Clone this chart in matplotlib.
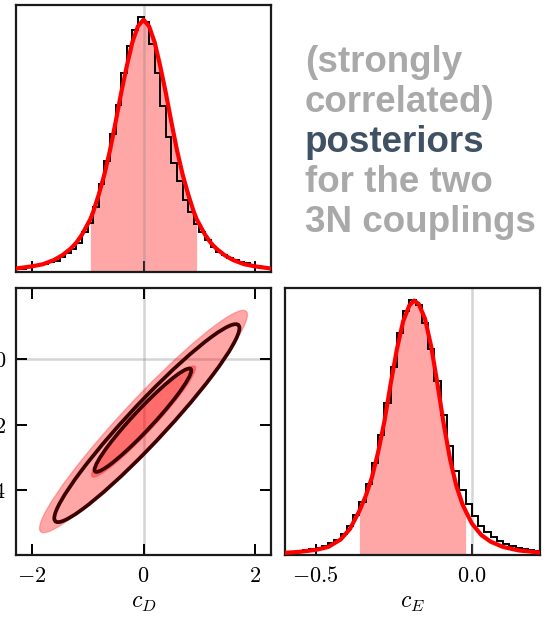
import numpy as np
import matplotlib
matplotlib.use("Agg")
import matplotlib.pyplot as plt
from matplotlib.patches import Ellipse

plt.rcParams['mathtext.fontset'] = 'cm'

# ---------------- data ----------------
# c_D marginal histogram (bins of 0.1 from -2.3 to 2.3), relative density
cD_edges = np.round(np.arange(-2.3, 2.3001, 0.1), 3)
cD_hist = [0.012, 0.013, 0.019, 0.021, 0.025, 0.030, 0.036, 0.043, 0.055, 0.070,
           0.085, 0.108, 0.150, 0.185, 0.245, 0.330, 0.415, 0.515, 0.625, 0.745,
           0.845, 0.905, 0.955, 0.935, 0.855, 0.745, 0.620, 0.505, 0.410, 0.340,
           0.270, 0.225, 0.180, 0.150, 0.118, 0.093, 0.075, 0.063, 0.053, 0.044,
           0.038, 0.032, 0.027, 0.022, 0.019, 0.015]
# fitted curve for c_D
cD_fit_x = [-2.28, -2.0, -1.8, -1.6, -1.45, -1.3, -1.2, -1.1, -0.95, -0.9, -0.8, -0.7,
            -0.6, -0.5, -0.4, -0.3, -0.2, -0.1, 0.0, 0.1, 0.2, 0.3, 0.4, 0.5, 0.6,
            0.7, 0.8, 0.9, 0.95, 1.1, 1.2, 1.3, 1.45, 1.6, 1.8, 2.0, 2.28]
cD_fit_y = [0.013, 0.021, 0.029, 0.045, 0.063, 0.088, 0.110, 0.140, 0.198, 0.225, 0.290, 0.365,
            0.455, 0.560, 0.670, 0.770, 0.860, 0.920, 0.945, 0.920, 0.860, 0.770, 0.670, 0.560, 0.455,
            0.365, 0.290, 0.225, 0.198, 0.140, 0.110, 0.088, 0.063, 0.045, 0.029, 0.021, 0.013]
cD_interval = [-0.95, 0.95]

# c_E marginal histogram (bins of 0.02 from -0.6 to 0.22)
cE_edges = np.round(np.arange(-0.6, 0.2201, 0.02), 3)
cE_hist = [0.010, 0.012, 0.015, 0.018, 0.022, 0.027, 0.034, 0.045, 0.058, 0.078,
           0.108, 0.148, 0.200, 0.265, 0.345, 0.450, 0.570, 0.705, 0.830, 0.915,
           0.955, 0.935, 0.870, 0.770, 0.650, 0.525, 0.410, 0.315, 0.245, 0.190,
           0.145, 0.110, 0.085, 0.066, 0.052, 0.042, 0.034, 0.028, 0.023, 0.019, 0.016]
cE_fit_x = [-0.60, -0.55, -0.50, -0.46, -0.42, -0.39, -0.36, -0.34, -0.32, -0.30, -0.28,
            -0.26, -0.24, -0.22, -0.20, -0.185, -0.17, -0.15, -0.13, -0.11, -0.09, -0.07,
            -0.05, -0.03, -0.02, 0.00, 0.03, 0.06, 0.10, 0.15, 0.22]
cE_fit_y = [0.008, 0.012, 0.019, 0.030, 0.058, 0.098, 0.165, 0.220, 0.290, 0.385, 0.500,
            0.640, 0.770, 0.875, 0.935, 0.953, 0.940, 0.885, 0.780, 0.640, 0.490, 0.360,
            0.260, 0.190, 0.165, 0.118, 0.075, 0.050, 0.030, 0.017, 0.009]
cE_interval = [-0.36, -0.02]

# 2D Gaussian fit (mean, sd, correlation) and sigma levels
fit_mean = [0.0, -0.19]
fit_sd = [0.93, 0.17]
fit_rho = 0.96
fit_levels = [2.0, 1.0]
# sample (KDE) contours: centres and radii in units of the fit covariance
kde_centers = [(0.06, -0.195), (-0.01, -0.186)]
kde_levels = [1.78, 0.93]

cD_ticks = [-2, 0, 2]
cE_ticks2d = [0.0, -0.2, -0.4]
cE_ticks = [-0.5, 0.0]
cD_lim = (-2.28, 2.28)
cE_lim = (-0.598, 0.218)

text_lines = ["(strongly", "correlated)", "posteriors", "for the two", "3N couplings"]
text_colors = ["#a9a9a9", "#a9a9a9", "#3f5163", "#a9a9a9", "#a9a9a9"]

# ---------------- figure ----------------
W, H = 551, 620
fig = plt.figure(figsize=(W / 100, H / 100), dpi=100)

def px_axes(x0, y0, x1, y1):
    return fig.add_axes([x0 / W, 1 - y1 / H, (x1 - x0) / W, (y1 - y0) / H])

ax_top = px_axes(16, 5, 271, 272)
ax_2d = px_axes(16, 288, 271, 555)
ax_r = px_axes(285, 288, 540, 555)

FS = 16
def mfmt(v, nd):
    s = f"{v:.{nd}f}"
    return f"${s}$"

for ax in (ax_top, ax_2d, ax_r):
    for sp in ax.spines.values():
        sp.set_linewidth(1.6)
        sp.set_color("#1a1a1a")

red_fill = (1, 0, 0, 0.35)
grey = (0.53, 0.53, 0.53, 0.35)

# top histogram (c_D)
ax = ax_top
fx = np.array(cD_fit_x); fy = np.array(cD_fit_y)
m = (fx >= cD_interval[0]) & (fx <= cD_interval[1])
ax.fill_between(fx[m], 0, fy[m], color=red_fill, lw=0, zorder=1)
ax.axvline(0, color=grey, lw=1.8, zorder=2)
ax.stairs(cD_hist, cD_edges, color="black", lw=1.4, zorder=3)
ax.plot(fx, fy, color="red", lw=3.0, zorder=4, solid_capstyle="round")
ax.set_xlim(*cD_lim)
ax.set_ylim(0, 1.0)
ax.set_xticks(cD_ticks)
ax.set_yticks([])
ax.tick_params(axis="x", direction="in", length=8, width=1.4, labelbottom=False, top=False)

# 2D panel
ax = ax_2d
ax.axvline(0, color=grey, lw=1.8, zorder=0)
ax.axhline(0, color=grey, lw=1.8, zorder=0)
cov = np.array([[fit_sd[0] ** 2, fit_rho * fit_sd[0] * fit_sd[1]],
                [fit_rho * fit_sd[0] * fit_sd[1], fit_sd[1] ** 2]])
vals, vecs = np.linalg.eigh(cov)
order = np.argsort(vals)[::-1]
vals = vals[order]; vecs = vecs[:, order]
angle = np.degrees(np.arctan2(vecs[1, 0], vecs[0, 0]))
for r in fit_levels:
    e = Ellipse(fit_mean, 2 * r * np.sqrt(vals[0]), 2 * r * np.sqrt(vals[1]), angle=angle,
                facecolor=red_fill, edgecolor=(1, 0, 0, 0.25), lw=1.0, zorder=1)
    ax.add_patch(e)
for c, r in zip(kde_centers, kde_levels):
    e = Ellipse(c, 2 * r * np.sqrt(vals[0]), 2 * r * np.sqrt(vals[1]), angle=angle,
                facecolor="none", edgecolor="#3d0000", lw=2.7, zorder=3)
    ax.add_patch(e)
ax.set_xlim(*cD_lim)
ax.set_ylim(*cE_lim)
ax.set_xticks(cD_ticks)
ax.set_xticklabels([mfmt(v, 0) for v in cD_ticks])
ax.set_yticks(cE_ticks2d)
ax.set_yticklabels([mfmt(v, 1) for v in cE_ticks2d])
ax.tick_params(direction="in", length=8, width=1.4, top=True, right=True, labelsize=FS)
ax.tick_params(axis="x", pad=8)
ax.tick_params(axis="y", pad=7)
ax.set_xlabel("$c_D$", fontsize=17, labelpad=3)

# right histogram (c_E)
ax = ax_r
fx = np.array(cE_fit_x); fy = np.array(cE_fit_y)
m = (fx >= cE_interval[0] - 1e-9) & (fx <= cE_interval[1] + 1e-9)
ax.fill_between(fx[m], 0, fy[m], color=red_fill, lw=0, zorder=1)
ax.axvline(0, color=grey, lw=1.8, zorder=2)
ax.stairs(cE_hist, cE_edges, color="black", lw=1.4, zorder=3)
ax.plot(fx, fy, color="red", lw=3.0, zorder=4, solid_capstyle="round")
ax.set_xlim(*cE_lim)
ax.set_ylim(0, 1.0)
ax.set_xticks(cE_ticks)
ax.set_xticklabels([mfmt(v, 1) for v in cE_ticks])
ax.set_yticks([])
ax.tick_params(axis="x", direction="in", length=8, width=1.4, labelsize=FS, pad=8)
ax.set_xlabel("$c_E$", fontsize=17, labelpad=3)

# annotation text
baselines = [72, 112, 152, 192, 232]
for t, c, b in zip(text_lines, text_colors, baselines):
    fig.text(305 / W, 1 - b / H, t, color=c, fontsize=26.5, fontweight="bold",
             family="Liberation Sans", ha="left", va="baseline")

fig.savefig("out.png", dpi=100)
